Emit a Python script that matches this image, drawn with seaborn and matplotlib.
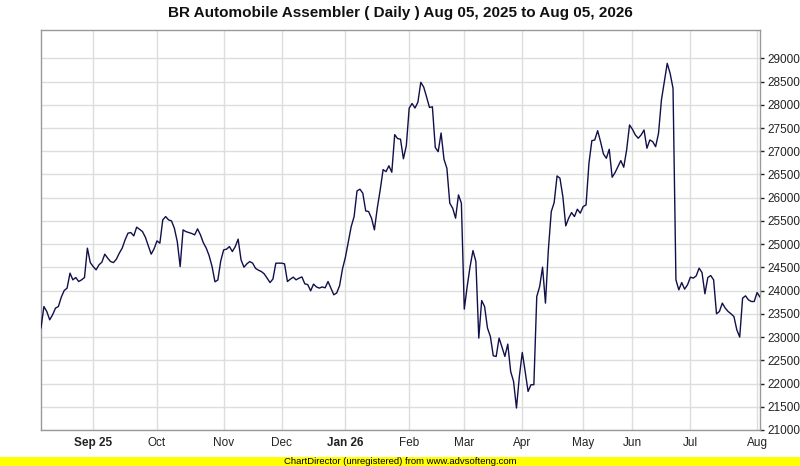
import numpy as np
import pandas as pd
import matplotlib
matplotlib.use("Agg")
import matplotlib.pyplot as plt
from matplotlib.patches import Rectangle
import seaborn as sns

# ---------------- data ----------------
title = "BR Automobile Assembler ( Daily ) Aug 05, 2025 to Aug 05, 2026"
start_date = "2025-08-05"
end_date = "2026-08-04"
market_holidays = ["2025-08-14", "2025-12-25", "2026-02-05", "2026-03-20", "2026-03-23",
                   "2026-04-03", "2026-05-01", "2026-05-27", "2026-05-28", "2026-05-29",
                   "2026-06-24", "2026-06-25"]

close_aug_sep = [23194, 23658, 23550, 23372, 23480, 23624, 23658, 23860, 24002, 24054,
                 24376, 24232, 24282, 24196, 24232, 24282, 24914, 24604,
                 24518, 24447, 24555, 24613, 24785, 24699, 24626, 24604, 24677, 24806,
                 24914, 25092, 25237, 25250, 25178, 25366, 25320, 25271, 25150, 24970,
                 24785, 24899]
close_oct_nov = [25071, 25021, 25523, 25594, 25523, 25501, 25344, 25056, 24518, 25308,
                 25270, 25250, 25230, 25200, 25329, 25200, 25030, 24914, 24750, 24520,
                 24190, 24230, 24640,
                 24877, 24892, 24948, 24841, 24948, 25108, 24662, 24505, 24576, 24626,
                 24591, 24480, 24440, 24411, 24361, 24269, 24174, 24250, 24591, 24591]
close_dec_jan = [24591, 24576, 24196, 24247, 24290, 24232, 24269, 24295, 24146, 24130,
                 23996, 24140, 24080, 24054, 24080, 24060, 24196, 24054, 23910, 23950,
                 24110, 24470,
                 24720, 25050, 25379, 25594, 26146, 26183, 26097, 25716, 25701, 25559,
                 25308, 25780, 26168, 26605, 26561, 26687, 26548, 27358, 27272, 27260,
                 26838, 27117]
close_feb_mar = [27930, 28028, 27930, 28056, 28484, 28382, 28168, 27942, 27957, 27080,
                 26991, 27393, 26828, 26634, 25882, 25774, 25559, 26060, 25882,
                 23602, 24088, 24518, 24862, 24626, 22978, 23787, 23658, 23194, 23013,
                 22598, 22583, 22978, 22785, 22583, 22849, 22260, 22045, 21473, 22153]
close_apr_may = [22669, 22260, 21830, 21974, 21974, 23873, 24088, 24505, 23731, 24877,
                 25701, 25895, 26469, 26419, 26024, 25394, 25559, 25680, 25594, 25753,
                 25667,
                 25809, 25845, 26742, 27228, 27243, 27443, 27206, 26942, 26849, 27043,
                 26441, 26540, 26669, 26798, 26656, 27028]
close_jun_aug = [27566, 27473, 27351, 27280, 27351, 27458, 27065, 27243, 27206, 27099,
                 27387, 28103, 28497, 28892, 28677, 28355, 24232, 24017, 24174, 24032,
                 24125,
                 24290, 24269, 24318, 24484, 24389, 23931, 24282, 24325, 24232, 23501,
                 23551, 23731, 23624, 23551, 23501, 23443, 23157, 23000, 23839, 23888,
                 23802, 23766, 23766,
                 23959, 23860]

y_ticks = list(range(21000, 29001, 500))

# ---------------- build table ----------------
close = (close_aug_sep + close_oct_nov + close_dec_jan + close_feb_mar
         + close_apr_may + close_jun_aug)
dates = pd.bdate_range(start_date, end_date)
dates = dates[~dates.isin(pd.to_datetime(market_holidays))]
n = min(len(dates), len(close))
df = pd.DataFrame({"date": dates[:n], "close": close[:n]})
df["idx"] = np.arange(n)

# month ticks at the first trading day of each month (except the first, partial month)
first_days = df.groupby([df["date"].dt.year, df["date"].dt.month])["idx"].min().values[1:]
tick_pos, tick_lab, tick_bold = [], [], []
for k, p in enumerate(first_days):
    d = df.loc[p, "date"]
    if k == 0 or d.month == 1:
        tick_lab.append(d.strftime("%b %y"))
        tick_bold.append(True)
    else:
        tick_lab.append(d.strftime("%b"))
        tick_bold.append(False)
    tick_pos.append(p)

# ---------------- plot ----------------
sns.set_style("white")
plt.rcParams["font.family"] = ["Liberation Sans", "DejaVu Sans"]

W, H = 800, 466
fig = plt.figure(figsize=(W / 100, H / 100), dpi=100)
fig.patch.set_facecolor("white")
L, R, T, B = 41, 760, 30, 430
ax = fig.add_axes([L / W, 1 - B / H, (R - L) / W, (B - T) / H])

sns.lineplot(data=df, x="idx", y="close", ax=ax, color="#10104a", linewidth=1.0, zorder=3)

ax.set_xlim(0, n - 1)
ax.set_ylim(21000, 29610)
ax.set_xlabel("")
ax.set_ylabel("")

ax.yaxis.tick_right()
ax.set_yticks(y_ticks)
ax.set_yticklabels([str(v) for v in y_ticks])
ax.tick_params(axis="y", which="both", right=True, length=3, width=1.0, color="#222222",
               labelsize=8.5, pad=2, labelcolor="#222222")
ax.set_xticks(tick_pos)
ax.set_xticklabels(tick_lab)
ax.tick_params(axis="x", length=0, labelsize=8.5, pad=5, labelcolor="#222222")
for lab, bold in zip(ax.get_xticklabels(), tick_bold):
    if bold:
        lab.set_fontweight("bold")

ax.grid(True, color="#dddddd", linewidth=1.0)
ax.set_axisbelow(True)
for side in ["left", "bottom", "right", "top"]:
    ax.spines[side].set_visible(True)
    ax.spines[side].set_color("#999999")
    ax.spines[side].set_linewidth(1.0)

fig.text(0.5, 1 - 13 / H, title, ha="center", va="center", fontsize=11,
         fontweight="bold", color="#111111")

# footer band
fig.patches.append(Rectangle((0, 0), 1, 9.5 / H, transform=fig.transFigure,
                             facecolor="#ffff00", edgecolor="none", zorder=0))
fig.text(0.5, 4.7 / H, "ChartDirector (unregistered) from www.advsofteng.com",
         ha="center", va="center", fontsize=6.8, color="#000000",
         family=["Liberation Sans Narrow", "Liberation Sans", "DejaVu Sans"])

fig.savefig("out.png", dpi=100)
